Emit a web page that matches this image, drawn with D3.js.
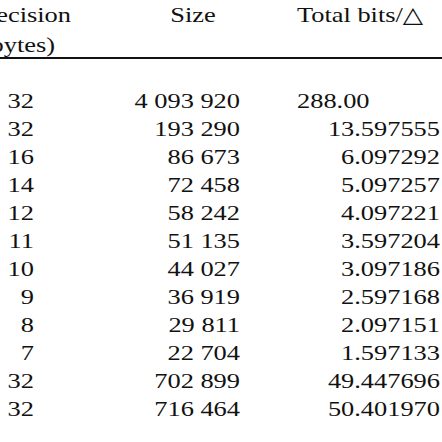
<!DOCTYPE html>
<html><head><meta charset="utf-8">
<script src="https://cdn.jsdelivr.net/npm/d3@7"></script>
<style>body{margin:0;background:#fff}</style>
</head><body>
<svg id="t" width="442" height="442"></svg>
<script>
// table values
const precision = [32, 32, 16, 14, 12, 11, 10, 9, 8, 7, 32, 32];
const sizes = ["4 093 920", "193 290", "86 673", "72 458", "58 242", "51 135", "44 027", "36 919", "29 811", "22 704", "702 899", "716 464"];
const totalBits = ["288.00", "13.597555", "6.097292", "5.097257", "4.097221", "3.597204", "3.097186", "2.597168", "2.097151", "1.597133", "49.447696", "50.401970"];

const svg = d3.select("#t");
const font = "Liberation Serif, DejaVu Serif, serif";

let y = d3.scalePoint()
    .domain(d3.range(precision.length))
    .range([108, 416]);

// glyphs in the reference are wider than Liberation Serif, stretch them a bit
function txt(x, yy, s, anchor) {
  svg.append("text")
      .attr("transform", "translate(" + x + "," + yy + ") scale(1.2,1)")
      .attr("text-anchor", anchor)
      .attr("font-family", font)
      .attr("font-size", 22)
      .attr("fill", "#111")
      .text(s);
}

// header
txt(71, 22, "Precision", "end");
txt(55, 52, "(bytes)", "end");
txt(193, 22, "Size", "middle");
txt(297, 22, "Total bits/\u25B3", "start");

svg.append("line")
    .attr("x1", 0).attr("x2", 442)
    .attr("y1", 58).attr("y2", 58)
    .attr("stroke", "#111").attr("stroke-width", 2);

precision.forEach(function(p, i) {
  txt(34, y(i), p, "end");
  txt(240, y(i), sizes[i], "end");
  if (i === 0) txt(297, y(i), totalBits[i], "start");
  else txt(440, y(i), totalBits[i], "end");
});
</script>
</body></html>
